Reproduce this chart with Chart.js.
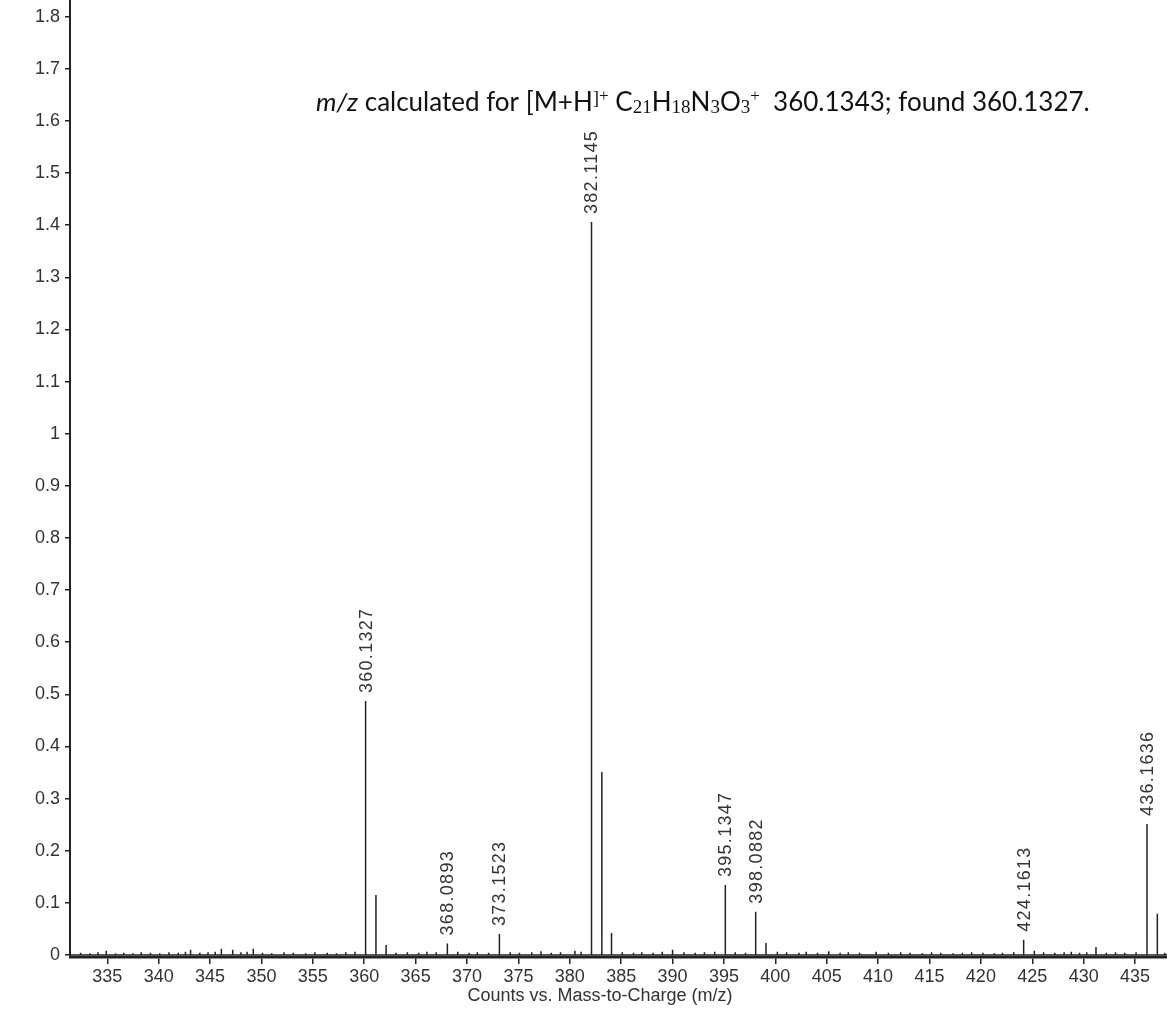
<!DOCTYPE html>
<html>
<head>
<meta charset="utf-8">
<script src="https://cdn.jsdelivr.net/npm/chart.js@4.4.0/dist/chart.umd.min.js"></script>
<style>
    html, body { margin: 0; padding: 0; background: #fff; }
</style>
</head>
<body>
<canvas id="specChart" width="1167" height="1011"></canvas>
<script>
// Axis ticks
const xTicks = [335, 340, 345, 350, 355, 360, 365, 370, 375, 380, 385, 390, 395, 400, 405, 410, 415, 420, 425, 430, 435];
const yTicks = [0, 0.1, 0.2, 0.3, 0.4, 0.5, 0.6, 0.7, 0.8, 0.9, 1, 1.1, 1.2, 1.3, 1.4, 1.5, 1.6, 1.7, 1.8];

// Main peaks (m/z, counts) and their labels
const peakMz  = [360.1327, 361.14, 362.13, 368.0893, 373.1523, 382.1145, 383.12, 384.06, 395.1347, 398.0882, 399.09, 424.1613, 431.2, 436.1636, 437.17];
const peakInt = [0.487,    0.115,  0.019,  0.022,    0.040,    1.406,    0.351,  0.042,  0.134,    0.083,    0.023,  0.029,    0.015, 0.251,    0.079];
const peakLabels = ['360.1327', '', '', '368.0893', '373.1523', '382.1145', '', '', '395.1347', '398.0882', '', '424.1613', '', '436.1636', ''];

// Baseline noise
const noiseMz  = [332.4, 333.3, 334.1, 334.9, 335.8, 336.6, 337.5, 338.3, 339.2, 340.1, 341.0, 341.9, 342.6, 343.1, 344.0, 344.8, 345.5, 346.1, 347.2, 348.0, 348.6, 349.2, 350.1, 351.0, 352.2, 353.1, 354.3, 355.2, 356.4, 357.3, 358.2, 359.1, 363.1, 364.2, 365.3, 366.1, 367.0, 369.1, 370.2, 371.0, 372.1, 374.2, 375.1, 376.3, 377.2, 378.2, 379.1, 380.5, 381.1, 385.1, 386.2, 387.0, 388.1, 389.0, 390.0, 391.1, 392.2, 393.1, 394.1, 396.1, 397.1, 400.2, 401.1, 402.3, 403.0, 404.1, 405.2, 406.3, 407.1, 408.2, 409.8, 411.0, 412.2, 413.1, 414.3, 415.2, 416.1, 417.3, 418.2, 419.1, 420.2, 421.3, 422.1, 423.2, 425.2, 426.1, 427.2, 428.1, 428.8, 429.6, 430.3, 432.2, 433.1, 434.0, 435.1, 437.9];
const noiseInt = [0.004, 0.003, 0.005, 0.008, 0.003, 0.004, 0.003, 0.005, 0.004, 0.003, 0.005, 0.004, 0.006, 0.010, 0.004, 0.005, 0.006, 0.012, 0.010, 0.005, 0.006, 0.012, 0.004, 0.003, 0.005, 0.004, 0.003, 0.005, 0.004, 0.003, 0.005, 0.006, 0.004, 0.005, 0.004, 0.006, 0.005, 0.006, 0.004, 0.005, 0.004, 0.005, 0.004, 0.005, 0.007, 0.004, 0.005, 0.008, 0.006, 0.005, 0.004, 0.005, 0.004, 0.006, 0.010, 0.005, 0.004, 0.005, 0.006, 0.005, 0.004, 0.006, 0.005, 0.004, 0.006, 0.004, 0.007, 0.004, 0.005, 0.004, 0.006, 0.004, 0.005, 0.004, 0.003, 0.005, 0.004, 0.003, 0.004, 0.005, 0.004, 0.003, 0.004, 0.005, 0.008, 0.005, 0.004, 0.005, 0.006, 0.004, 0.005, 0.004, 0.005, 0.004, 0.005, 0.004];

const X_MIN = 331.37, X_MAX = 438.11;
const Y_MIN = -0.004, Y_MAX = 1.832;

const INK = '#222';
const TEXT = '#333';

// stick spectrum: every peak becomes baseline -> top -> baseline
function buildSticks() {
    const all = peakMz.map((m, i) => [m, peakInt[i]])
        .concat(noiseMz.map((m, i) => [m, noiseInt[i]]))
        .sort((a, b) => a[0] - b[0]);
    const pts = [{ x: X_MIN, y: 0 }];
    all.forEach(([m, v]) => {
        pts.push({ x: m, y: 0 }, { x: m, y: v }, { x: m, y: 0 });
    });
    pts.push({ x: X_MAX, y: 0 });
    return pts;
}

const peakLabelPlugin = {
    id: 'peakLabels',
    afterDatasetsDraw(chart) {
        const ctx = chart.ctx;
        const xs = chart.scales.x, ys = chart.scales.y;
        ctx.save();
        ctx.fillStyle = TEXT;
        ctx.font = '18px "Liberation Sans", Arial, sans-serif';
        ctx.letterSpacing = '1.3px';
        ctx.textAlign = 'left';
        ctx.textBaseline = 'middle';
        peakLabels.forEach((lab, i) => {
            if (!lab) return;
            const px = xs.getPixelForValue(peakMz[i]);
            const py = ys.getPixelForValue(peakInt[i]);
            ctx.save();
            ctx.translate(px + 1, py - 8);
            ctx.rotate(-Math.PI / 2);
            ctx.fillText(lab, 0, 0);
            ctx.restore();
        });
        ctx.restore();

        // x axis title
        ctx.save();
        ctx.fillStyle = TEXT;
        ctx.font = '18px "Liberation Sans", Arial, sans-serif';
        ctx.textAlign = 'center';
        ctx.textBaseline = 'middle';
        ctx.fillText('Counts vs. Mass-to-Charge (m/z)', 600, 996);
        ctx.restore();

        // formula annotation
        const base = '"Lato", "Open Sans", sans-serif';
        const serif = '"Liberation Serif", serif';
        const parts = [
            { t: 'm/z', f: 'italic 26px ' + base },
            { t: ' calculated for [M+H', f: '26px ' + base },
            { t: ']', f: '19px ' + serif, dy: -7 },
            { t: '+', f: '17px ' + serif, dy: -10 },
            { t: ' C', f: '26px ' + base },
            { t: '21', f: '19px ' + serif, dy: 2 },
            { t: 'H', f: '26px ' + base },
            { t: '18', f: '19px ' + serif, dy: 2 },
            { t: 'N', f: '26px ' + base },
            { t: '3', f: '19px ' + serif, dy: 2 },
            { t: 'O', f: '26px ' + base },
            { t: '3', f: '19px ' + serif, dy: 2 },
            { t: '+', f: '17px ' + serif, dy: -10 },
            { t: '  360.1343; found 360.1327.', f: '26px ' + base }
        ];
        ctx.save();
        ctx.fillStyle = '#111';
        ctx.textAlign = 'left';
        ctx.textBaseline = 'alphabetic';
        let x = 316;
        const y = 111;
        parts.forEach(p => {
            ctx.font = p.f;
            ctx.fillText(p.t, x, y + (p.dy || 0));
            x += ctx.measureText(p.t).width;
        });
        ctx.restore();
    }
};

const ctx = document.getElementById('specChart').getContext('2d');
new Chart(ctx, {
    type: 'scatter',
    data: {
        datasets: [{
            data: buildSticks(),
            showLine: true,
            borderColor: INK,
            borderWidth: 1.5,
            pointRadius: 0,
            tension: 0
        }]
    },
    options: {
        responsive: false,
        animation: false,
        devicePixelRatio: 1,
        layout: { padding: 0 },
        plugins: {
            legend: { display: false },
            tooltip: { enabled: false }
        },
        scales: {
            x: {
                type: 'linear',
                min: X_MIN,
                max: X_MAX,
                afterBuildTicks: s => { s.ticks = xTicks.map(v => ({ value: v })); },
                afterFit: s => { s.height = 54; s.paddingLeft = 0; s.paddingRight = 0; },
                grid: { display: true, drawOnChartArea: false, drawTicks: true, tickLength: 7, color: INK, lineWidth: 1.5 },
                border: { display: true, color: INK, width: 2.5 },
                ticks: {
                    color: TEXT,
                    padding: 2,
                    maxRotation: 0,
                    autoSkip: false,
                    font: { family: '"Liberation Sans", Arial, sans-serif', size: 18 }
                }
            },
            y: {
                type: 'linear',
                min: Y_MIN,
                max: Y_MAX,
                afterBuildTicks: s => { s.ticks = yTicks.map(v => ({ value: v })); },
                afterFit: s => { s.width = 70; s.paddingTop = 0; s.paddingBottom = 0; },
                grid: { display: true, drawOnChartArea: false, drawTicks: true, tickLength: 5, color: INK, lineWidth: 1.5 },
                border: { display: true, color: INK, width: 2 },
                ticks: {
                    color: TEXT,
                    padding: 5,
                    autoSkip: false,
                    callback: v => String(+v.toFixed(1)),
                    font: { family: '"Liberation Sans", Arial, sans-serif', size: 18 }
                }
            }
        }
    },
    plugins: [peakLabelPlugin]
});
</script>
</body>
</html>
